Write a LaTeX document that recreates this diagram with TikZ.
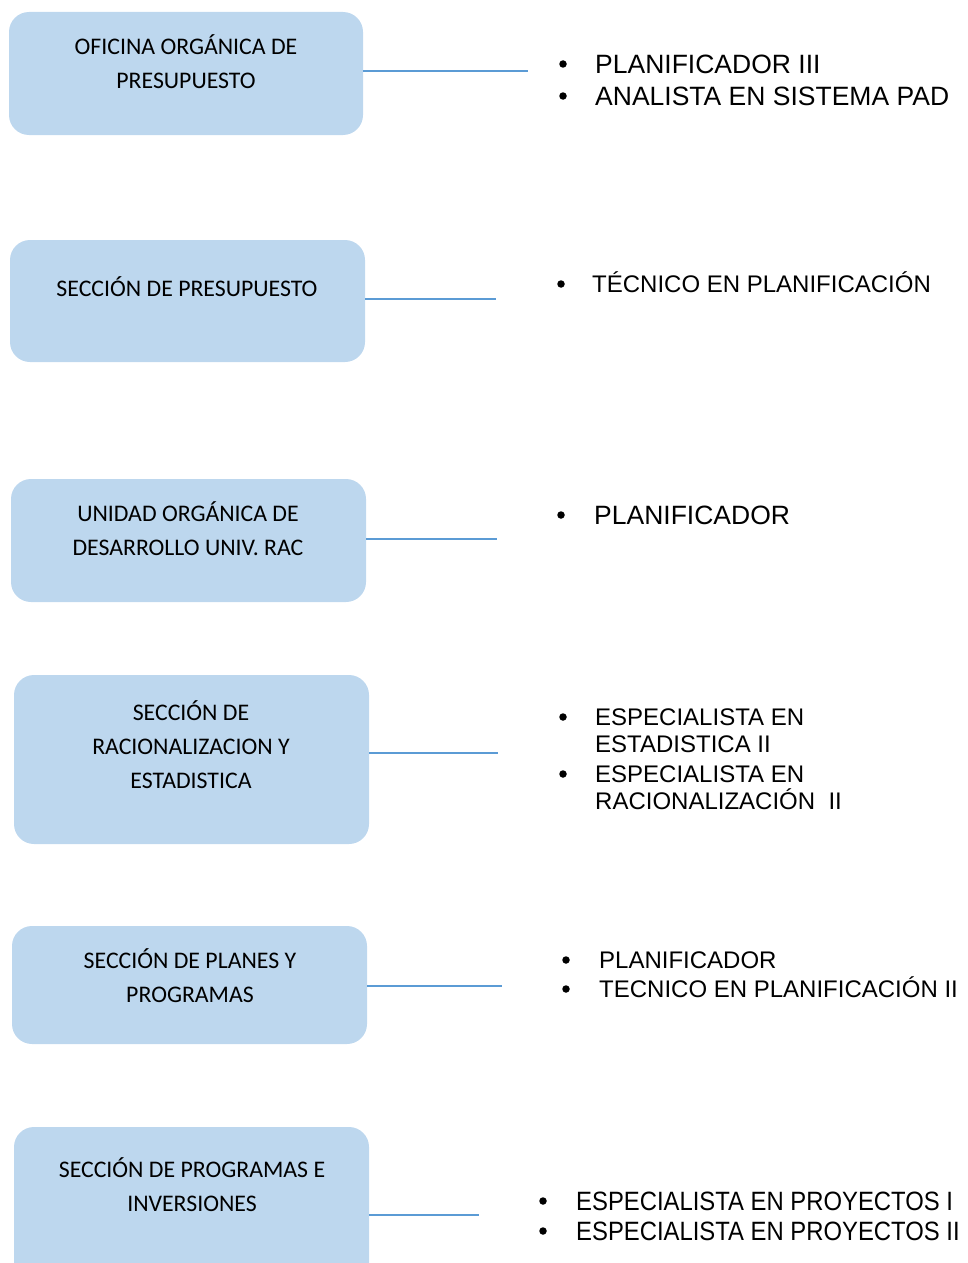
\documentclass[tikz,border=0pt]{standalone}
\usepackage{fontspec}
\setmainfont{Liberation Sans}
\newfontfamily\boxfont{Carlito}
\definecolor{boxfill}{HTML}{BDD7EE}
\definecolor{linkblue}{HTML}{5B9BD5}
\begin{document}
\begin{tikzpicture}[x=1pt,y=-1pt,
  unitbox/.style={draw=none,fill=boxfill,rounded corners=20pt,inner sep=0pt},
  boxtext/.style={font=\boxfont\fontsize{23.8}{34}\selectfont,align=center,inner sep=0pt,anchor=center},
  link/.style={draw=linkblue,line width=1.1pt},
  dot/.style={circle,fill=black,inner sep=0pt,minimum size=7.5pt},
  item/.style={font=\fontsize{26.5}{27}\selectfont,inner sep=0pt,anchor=base west,align=left},
  smallitem/.style={item,font=\fontsize{24}{27}\selectfont}]
\useasboundingbox (0,0) rectangle (967,1263);

% organisational units
\node[unitbox,minimum width=354pt,minimum height=123pt] (b1) at (186,73.5) {};
\node[unitbox,minimum width=355pt,minimum height=122pt] (b2) at (187.5,301) {};
\node[unitbox,minimum width=355pt,minimum height=123pt] (b3) at (188.5,540.5) {};
\node[unitbox,minimum width=355pt,minimum height=169pt] (b4) at (191.5,759.5) {};
\node[unitbox,minimum width=355pt,minimum height=118pt] (b5) at (189.5,985) {};
\node[unitbox,minimum width=355pt,minimum height=170pt] (b6) at (191.5,1212) {};

\node[boxtext] (t1) at (186,62) {OFICINA ORGÁNICA DE\\PRESUPUESTO};
\node[boxtext] (t2) at (187,287) {SECCIÓN DE PRESUPUESTO};
\node[boxtext] (t3) at (188,529) {UNIDAD ORGÁNICA DE\\DESARROLLO UNIV. RAC};
\node[boxtext] (t4) at (191,745) {SECCIÓN DE\\RACIONALIZACION Y\\ESTADISTICA};
\node[boxtext] (t5) at (190,976) {SECCIÓN DE PLANES Y\\PROGRAMAS};
\node[boxtext] (t6) at (192,1185) {SECCIÓN DE PROGRAMAS E\\INVERSIONES};

% connector ends
\coordinate (e1) at (528,71);
\coordinate (e2) at (496,299);
\coordinate (e3) at (497,539);
\coordinate (e4) at (498,753);
\coordinate (e5) at (502,986);
\coordinate (e6) at (479,1215);

\draw[link] (b1.east |- e1) -- (e1);
\draw[link] (b2.east |- e2) -- (e2);
\draw[link] (b3.east |- e3) -- (e3);
\draw[link] (b4.east |- e4) -- (e4);
\draw[link] (b5.east |- e5) -- (e5);
\draw[link] (b6.east |- e6) -- (e6);

% positions
\node[dot] (d1a) at (563,64) {};
\node[item] (p1a) at (595,73.5) {PLANIFICADOR III};
\node[dot] (d1b) at (563,96) {};
\node[item] (p1b) at (595,105.5) {ANALISTA EN SISTEMA PAD};

\node[dot] (d2a) at (561,284) {};
\node[smallitem] (p2a) at (592,292.5) {TÉCNICO EN PLANIFICACIÓN};

\node[dot] (d3a) at (561,515) {};
\node[item] (p3a) at (594,524) {PLANIFICADOR};

\node[dot] (d4a) at (563,717) {};
\node[smallitem] (p4a) at (595,725.5) {ESPECIALISTA EN};
\node[smallitem] (p4b) at (595,752.5) {ESTADISTICA II};
\node[dot] (d4b) at (563,774) {};
\node[smallitem] (p4c) at (595,782.5) {ESPECIALISTA EN};
\node[smallitem] (p4d) at (595,809.5) {RACIONALIZACIÓN\ \ II};

\node[dot] (d5a) at (566,960) {};
\node[smallitem] (p5a) at (599,968.5) {PLANIFICADOR};
\node[dot] (d5b) at (566,989) {};
\node[smallitem] (p5b) at (599,997.5) {TECNICO EN PLANIFICACIÓN II};

\node[dot] (d6a) at (543,1201) {};
\node[item,xscale=0.9] (p6a) at (576,1210.5) {ESPECIALISTA EN PROYECTOS I};
\node[dot] (d6b) at (543,1231) {};
\node[item,xscale=0.9] (p6b) at (576,1240.5) {ESPECIALISTA EN PROYECTOS II};
\end{tikzpicture}
\end{document}
